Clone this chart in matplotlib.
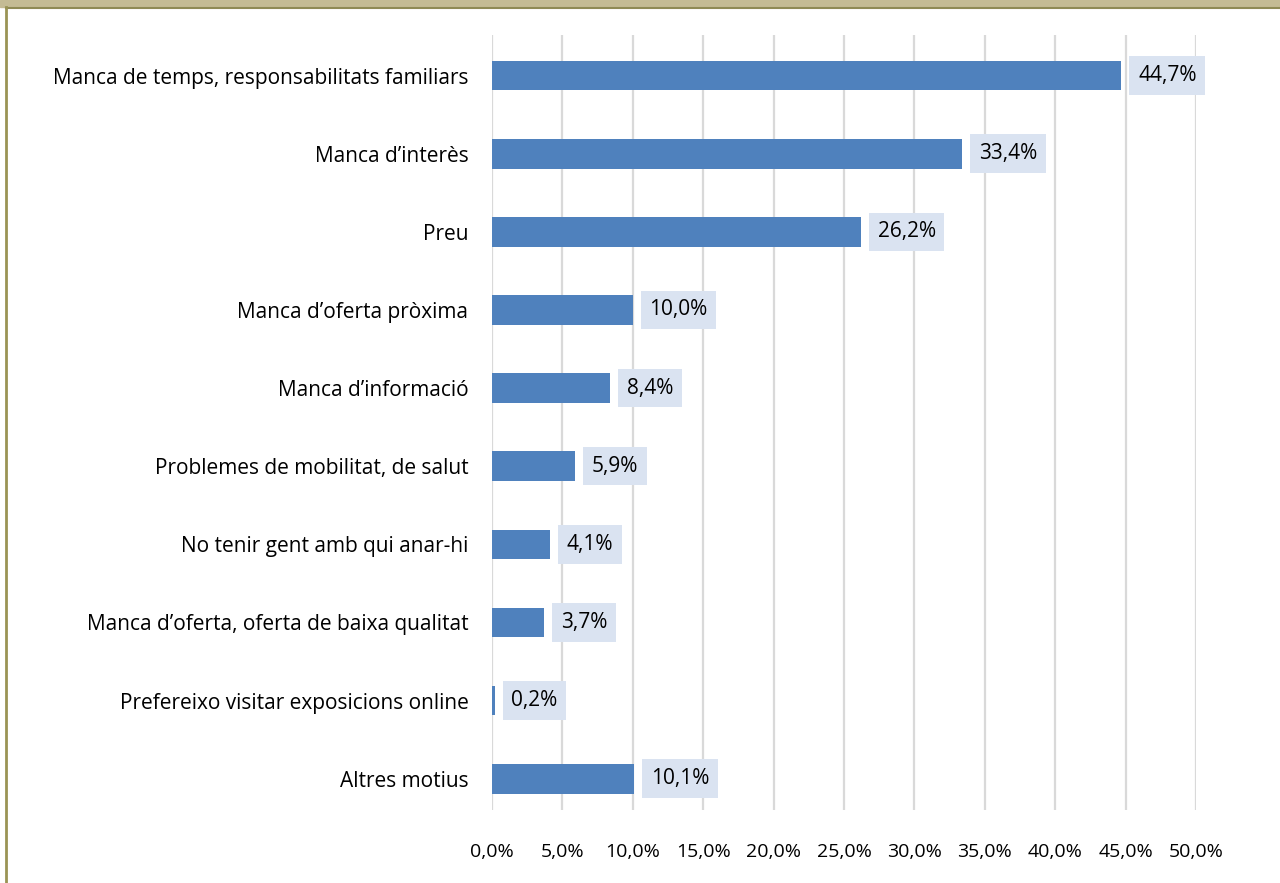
import matplotlib.pyplot as plt
from matplotlib.patches import Rectangle
from matplotlib.lines import Line2D

# Dades
categories = [
    'Manca de temps, responsabilitats familiars',
    'Manca d\u2019interès',
    'Preu',
    'Manca d\u2019oferta pròxima',
    'Manca d\u2019informació',
    'Problemes de mobilitat, de salut',
    'No tenir gent amb qui anar-hi',
    'Manca d\u2019oferta, oferta de baixa qualitat',
    'Prefereixo visitar exposicions online',
    'Altres motius',
]
values = [44.7, 33.4, 26.2, 10.0, 8.4, 5.9, 4.1, 3.7, 0.2, 10.1]
ticks = [0, 5, 10, 15, 20, 25, 30, 35, 40, 45, 50]

plt.rcParams['font.family'] = ['Open Sans', 'DejaVu Sans']

W, H = 1280, 883
fig = plt.figure(figsize=(W / 100, H / 100), dpi=100)
ax = fig.add_axes([492 / W, 1 - 810 / H, (1196 - 492) / W, (810 - 35) / H])

y = list(range(len(categories)))
ax.barh(y, values, height=0.38, color='#4f81bd', zorder=3)
ax.set_ylim(9.4, -0.52)
ax.set_xlim(0, 50)

ax.set_xticks(ticks)
ax.set_xticklabels([f'{t:.1f}%'.replace('.', ',') for t in ticks], fontsize=14)
ax.set_yticks(y)
ax.set_yticklabels(categories, fontsize=15)
ax.tick_params(length=0)
ax.tick_params(axis='x', pad=24)
ax.tick_params(axis='y', pad=17)
ax.grid(axis='x', color='#d9d9d9', linewidth=1.6, zorder=0)
for s in ax.spines.values():
    s.set_visible(False)

# Etiquetes de dades
for i, v in enumerate(values):
    ax.annotate(f'{v:.1f}%'.replace('.', ','), xy=(v, i), xytext=(12, 0),
                textcoords='offset points', va='center', ha='left',
                fontsize=15, zorder=5,
                bbox=dict(boxstyle='square,pad=0.42', fc='#dae3f1', ec='none'))

# Marc
fig.add_artist(Rectangle((0, 1 - 7 / H), 1, 7 / H, transform=fig.transFigure,
                         color='#c4bb94', zorder=0))
fig.add_artist(Line2D([6 / W, 1], [1 - 8 / H, 1 - 8 / H], transform=fig.transFigure,
                      color='#8f8a55', linewidth=1.5))
fig.add_artist(Line2D([6 / W, 6 / W], [0, 1 - 7 / H], transform=fig.transFigure,
                      color='#9a9455', linewidth=2))

plt.savefig('out.png', dpi=100)
